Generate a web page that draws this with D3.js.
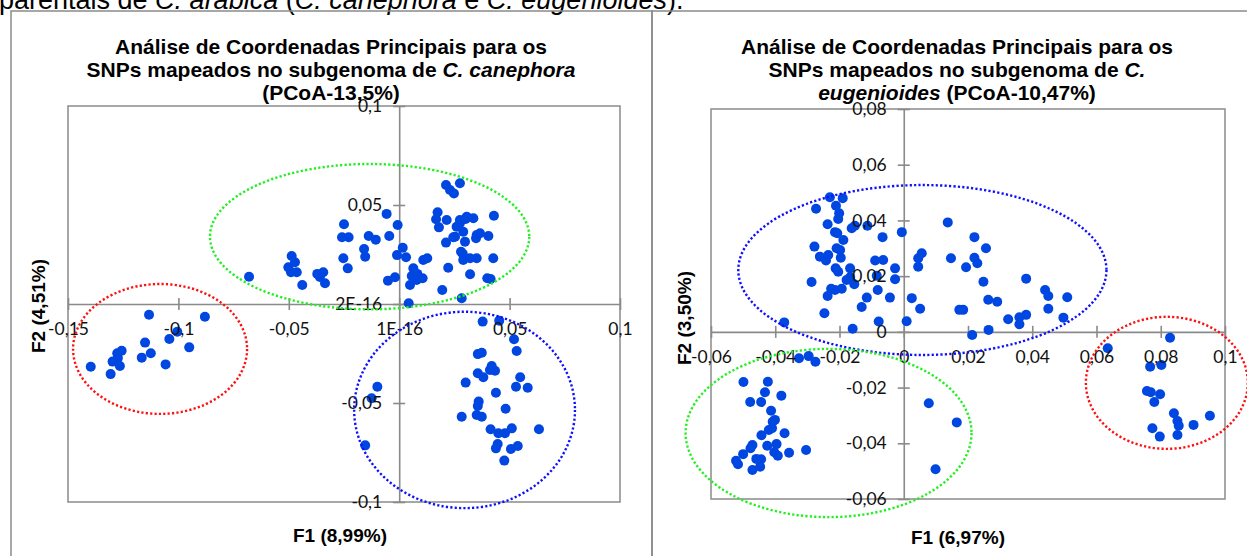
<!DOCTYPE html>
<html>
<head>
<meta charset="utf-8">
<script src="https://cdn.jsdelivr.net/npm/d3@7"></script>
<style>
  body { margin: 0; background: #fff; }
  svg { display: block; }
  .tick-label { font-family: Lato, "Open Sans", sans-serif; font-size: 17.5px; fill: #111; }
  .title { font-family: "Liberation Sans", Arial, sans-serif; font-weight: bold; font-size: 21px; fill: #000; }
  .axis-title { font-family: "Liberation Sans", Arial, sans-serif; font-weight: bold; font-size: 19px; fill: #000; }
</style>
</head>
<body>
<svg id="chart" width="1247" height="556"></svg>
<script>
// ---------- data: C. canephora subgenome (F1, F2) ----------
const canephoraGreen = [
  [-0.0680, 0.0138], [-0.0487, 0.0242], [-0.0472, 0.0211], [-0.0502, 0.0185], [-0.0490, 0.0160],
  [-0.0464, 0.0160], [-0.0439, 0.0096], [-0.0371, 0.0152], [-0.0344, 0.0160], [-0.0359, 0.0136],
  [-0.0336, 0.0105], [-0.0250, 0.0403], [-0.0259, 0.0337], [-0.0229, 0.0337], [-0.0253, 0.0231],
  [-0.0233, 0.0180], [-0.0159, 0.0278], [-0.0154, 0.0239], [-0.0138, 0.0343], [-0.0106, 0.0325],
  [-0.0057, 0.0455], [-0.0045, 0.0343], [-0.0007, 0.0399], [0.0016, 0.0284], [-0.0010, 0.0247],
  [0.0031, 0.0236], [-0.0051, 0.0118], [-0.0019, 0.0135], [0.0049, 0.0096], [0.0043, 0.0004],
  [0.0064, 0.0180], [0.0057, 0.0141], [0.0082, 0.0152], [0.0106, 0.0130], [0.0079, 0.0121],
  [0.0109, 0.0222], [0.0127, 0.0231], [0.0195, 0.0071], [0.0222, 0.0183], [0.0283, 0.0029],
  [0.0321, 0.0150], [0.0399, 0.0130], [0.0414, 0.0126], [0.0426, 0.0231], [0.0212, 0.0601],
  [0.0275, 0.0610], [0.0230, 0.0576], [0.0248, 0.0558], [0.0174, 0.0463], [0.0167, 0.0428],
  [0.0180, 0.0387], [0.0215, 0.0424], [0.0212, 0.0310], [0.0253, 0.0340], [0.0260, 0.0390],
  [0.0275, 0.0424], [0.0306, 0.0441], [0.0336, 0.0433], [0.0290, 0.0365], [0.0298, 0.0315],
  [0.0280, 0.0264], [0.0290, 0.0222], [0.0321, 0.0231], [0.0351, 0.0231], [0.0351, 0.0348],
  [0.0366, 0.0357], [0.0348, 0.0332], [0.0404, 0.0343], [0.0429, 0.0446], [0.0275, 0.0408],
  [0.0245, 0.0337], [0.0301, 0.0429], [0.0288, 0.0253]
];
const canephoraRed = [
  [-0.1397, -0.0317], [-0.1307, -0.0354], [-0.1298, -0.0291], [-0.1265, -0.0313], [-0.1274, -0.0273],
  [-0.1277, -0.0249], [-0.1257, -0.0236], [-0.1166, -0.0271], [-0.1151, -0.0195], [-0.1125, -0.0249],
  [-0.1133, -0.0054], [-0.1058, -0.0305], [-0.1041, -0.0177], [-0.1005, -0.0140], [-0.0951, -0.0219],
  [-0.0880, -0.0064]
];
const canephoraBlue = [
  [0.0378, -0.0089], [0.0453, -0.0084], [0.0520, -0.0178], [0.0532, -0.0237], [0.0356, -0.0253],
  [0.0374, -0.0246], [0.0419, -0.0313], [0.0434, -0.0337], [0.0411, -0.0333], [0.0356, -0.0350],
  [0.0381, -0.0370], [0.0301, -0.0397], [0.0548, -0.0370], [0.0529, -0.0418], [0.0582, -0.0423],
  [0.0438, -0.0448], [0.0360, -0.0493], [0.0356, -0.0515], [0.0482, -0.0529], [0.0283, -0.0569],
  [0.0351, -0.0561], [0.0374, -0.0569], [0.0414, -0.0633], [0.0449, -0.0653], [0.0479, -0.0653],
  [0.0510, -0.0628], [0.0633, -0.0633], [0.0446, -0.0707], [0.0438, -0.0729], [0.0506, -0.0732],
  [0.0537, -0.0717], [0.0476, -0.0791], [-0.0099, -0.0418], [-0.0125, -0.0476], [-0.0154, -0.0714]
];
// group outlines: [centre F1, centre F2, radius F1, radius F2]
const canephoraOutlines = [
  [-0.0134, 0.0340, 0.0723, 0.0367],
  [-0.1083, -0.0227, 0.0394, 0.0328],
  [0.0296, -0.0535, 0.0500, 0.0496]
];
const canephoraXTicks = [-0.15, -0.1, -0.05, 0, 0.05, 0.1];
const canephoraXLabels = ["-0,15", "-0,1", "-0,05", "1E-16", "0,05", "0,1"];
const canephoraYTicks = [0.1, 0.05, 0, -0.05, -0.1];
const canephoraYLabels = ["0,1", "0,05", "2E-16", "-0,05", "-0,1"];

// ---------- data: C. eugenioides subgenome (F1, F2) ----------
const eugenioidesBlue = [
  [-0.0230, 0.0483], [-0.0190, 0.0480], [-0.0211, 0.0453], [-0.0273, 0.0442], [-0.0201, 0.0426],
  [-0.0204, 0.0405], [-0.0237, 0.0386], [-0.0162, 0.0372], [-0.0152, 0.0381], [-0.0113, 0.0381],
  [-0.0006, 0.0358], [0.0137, 0.0393], [-0.0214, 0.0358], [-0.0207, 0.0354], [-0.0188, 0.0330],
  [-0.0066, 0.0340], [0.0220, 0.0340], [0.0256, 0.0300], [-0.0278, 0.0306], [-0.0209, 0.0300],
  [-0.0198, 0.0294], [-0.0261, 0.0270], [-0.0235, 0.0276], [-0.0242, 0.0256], [-0.0196, 0.0266],
  [0.0056, 0.0282], [0.0045, 0.0264], [0.0147, 0.0264], [0.0220, 0.0266], [0.0229, 0.0246],
  [-0.0089, 0.0256], [-0.0064, 0.0258], [-0.0027, 0.0228], [0.0045, 0.0234], [0.0194, 0.0232],
  [-0.0212, 0.0228], [-0.0204, 0.0216], [-0.0167, 0.0228], [-0.0084, 0.0201], [-0.0027, 0.0189],
  [0.0381, 0.0191], [-0.0287, 0.0179], [-0.0178, 0.0186], [-0.0167, 0.0196], [-0.0154, 0.0171],
  [0.0248, 0.0180], [-0.0226, 0.0155], [-0.0214, 0.0150], [-0.0193, 0.0155], [-0.0081, 0.0150],
  [-0.0237, 0.0129], [-0.0115, 0.0123], [-0.0043, 0.0123], [0.0025, 0.0121], [0.0440, 0.0150],
  [0.0450, 0.0129], [0.0509, 0.0124], [0.0263, 0.0115], [0.0291, 0.0108], [-0.0131, 0.0089],
  [0.0051, 0.0083], [0.0173, 0.0079], [0.0185, 0.0079], [0.0450, 0.0083], [-0.0247, 0.0067],
  [-0.0372, 0.0034], [-0.0078, 0.0037], [0.0009, 0.0038], [0.0325, 0.0045], [0.0360, 0.0052],
  [0.0381, 0.0061], [0.0360, 0.0027], [0.0497, 0.0051], [-0.0159, 0.0011], [0.0264, 0.0007],
  [0.0213, -0.0011]
];
const eugenioidesRed = [
  [0.0635, -0.0059], [0.0829, -0.0021], [0.0767, -0.0125], [0.0802, -0.0119], [0.0757, -0.0212],
  [0.0769, -0.0217], [0.0798, -0.0224], [0.0780, -0.0252], [0.0841, -0.0292], [0.0852, -0.0320],
  [0.0856, -0.0337], [0.0953, -0.0301], [0.0902, -0.0334], [0.0774, -0.0346], [0.0797, -0.0376],
  [0.0852, -0.0370]
];
const eugenioidesGreen = [
  [-0.0326, -0.0095], [-0.0296, -0.0087], [-0.0275, -0.0107], [-0.0499, -0.0180], [-0.0423, -0.0179],
  [-0.0432, -0.0217], [-0.0478, -0.0252], [-0.0444, -0.0252], [-0.0381, -0.0229], [-0.0413, -0.0283],
  [-0.0401, -0.0316], [-0.0408, -0.0323], [-0.0410, -0.0346], [-0.0420, -0.0352], [-0.0371, -0.0364],
  [-0.0443, -0.0371], [-0.0396, -0.0403], [-0.0425, -0.0409], [-0.0471, -0.0406], [-0.0477, -0.0418],
  [-0.0403, -0.0432], [-0.0392, -0.0445], [-0.0357, -0.0434], [-0.0304, -0.0424], [-0.0500, -0.0439],
  [-0.0459, -0.0456], [-0.0444, -0.0457], [-0.0522, -0.0463], [-0.0516, -0.0475], [-0.0447, -0.0484],
  [-0.0471, -0.0496], [0.0078, -0.0256], [0.0165, -0.0325], [0.0099, -0.0493]
];
const eugenioidesOutlines = [
  [0.0058, 0.0222, 0.0573, 0.0305],
  [-0.0234, -0.0363, 0.0445, 0.0302],
  [0.0819, -0.0183, 0.0252, 0.0237]
];
const eugenioidesXTicks = [-0.06, -0.04, -0.02, 0, 0.02, 0.04, 0.06, 0.08, 0.1];
const eugenioidesXLabels = ["-0,06", "-0,04", "-0,02", "0", "0,02", "0,04", "0,06", "0,08", "0,1"];
const eugenioidesYTicks = [0.08, 0.06, 0.04, 0.02, 0, -0.02, -0.04, -0.06];
const eugenioidesYLabels = ["0,08", "0,06", "0,04", "0,02", "0", "-0,02", "-0,04", "-0,06"];

// title lines: [text, italic?] segments
const canephoraTitle = [
  [["Análise de Coordenadas Principais para os", false]],
  [["SNPs mapeados no subgenoma de ", false], ["C. canephora", true]],
  [["(PCoA-13,5%)", false]]
];
const eugenioidesTitle = [
  [["Análise de Coordenadas Principais para os", false]],
  [["SNPs mapeados no subgenoma de ", false], ["C.", true]],
  [["eugenioides", true], [" (PCoA-10,47%)", false]]
];
const captionLine = [
  ["parentais de ", false], ["C. arabica", true], [" (", false], ["C. canephora", true],
  [" e ", false], ["C. eugenioides", true], [").", false]
];

const svg = d3.select("#chart");
const gridColor = "#8a8a8a";
const dotColor = "#0047e1";
const outlineColors = ["#1ff01f", "#ff1010", "#1010ff"];
const outlineColorsRight = ["#1010ff", "#1ff01f", "#ff1010"];

// caption from the page above, cut by the top edge
const cap = svg.append("text")
    .attr("x", -1).attr("y", 9)
    .style("font-family", "'Liberation Sans', Arial, sans-serif")
    .style("font-size", "27px");
captionLine.forEach(s => cap.append("tspan").style("font-style", s[1] ? "italic" : "normal").text(s[0]));

// chart frames
svg.append("rect").attr("x", 11).attr("y", 11).attr("width", 641).attr("height", 580)
    .attr("fill", "none").attr("stroke", gridColor).attr("stroke-width", 1.5);
svg.append("rect").attr("x", 652).attr("y", 11).attr("width", 620).attr("height", 580)
    .attr("fill", "none").attr("stroke", gridColor).attr("stroke-width", 1.5);

function drawPanel(p) {
  const x = d3.scaleLinear().domain(p.xDomain).range([p.left, p.right]);
  const y = d3.scaleLinear().domain(p.yDomain).range([p.bottom, p.top]);
  const g = svg.append("g");

  g.append("rect")
      .attr("x", p.left).attr("y", p.top)
      .attr("width", p.right - p.left).attr("height", p.bottom - p.top)
      .attr("fill", "none").attr("stroke", gridColor).attr("stroke-width", 1.5);

  // axis lines and cross ticks
  const gx = g.append("g").attr("transform", `translate(0,${y(0)})`)
      .call(d3.axisBottom(x).tickValues(p.xTicks).tickFormat("").tickSize(6).tickSizeOuter(0));
  gx.selectAll(".tick line").attr("y1", -6);
  const gy = g.append("g").attr("transform", `translate(${x(0)},0)`)
      .call(d3.axisLeft(y).tickValues(p.yTicks).tickFormat("").tickSize(6).tickSizeOuter(0));
  gy.selectAll(".tick line").attr("x1", 6);
  g.selectAll(".domain, .tick line").attr("stroke", gridColor).attr("stroke-width", 1.6);

  // points
  g.append("g").selectAll("circle")
    .data(p.points)
    .join("circle")
      .attr("cx", d => x(d[0]))
      .attr("cy", d => y(d[1]))
      .attr("r", 5)
      .attr("fill", dotColor);

  // tick labels on top of the points
  const lx = g.append("g").attr("transform", `translate(0,${y(0)})`)
      .call(d3.axisBottom(x).tickValues(p.xTicks).tickFormat((d, i) => p.xLabels[i]).tickSize(0).tickPadding(19));
  const ly = g.append("g").attr("transform", `translate(${x(0)},0)`)
      .call(d3.axisLeft(y).tickValues(p.yTicks).tickFormat((d, i) => p.yLabels[i]).tickSize(0).tickPadding(17));
  [lx, ly].forEach(a => {
    a.select(".domain").remove();
    a.selectAll("text").attr("class", "tick-label").attr("fill", null);
    a.attr("font-family", null).attr("font-size", null);
  });

  // dotted group outlines
  g.append("g").selectAll("ellipse")
    .data(p.outlines)
    .join("ellipse")
      .attr("cx", d => x(d[0]))
      .attr("cy", d => y(d[1]))
      .attr("rx", d => x(d[0] + d[2]) - x(d[0]))
      .attr("ry", d => y(d[1]) - y(d[1] + d[3]))
      .attr("fill", "none")
      .attr("stroke", (d, i) => p.outlineColors[i])
      .attr("stroke-width", 2.4)
      .attr("stroke-dasharray", "2.2 2.2");

  // chart title
  p.title.forEach((line, i) => {
    const t = g.append("text").attr("class", "title")
        .attr("x", p.titleX).attr("y", p.titleY + i * 23)
        .attr("text-anchor", "middle");
    line.forEach(s => t.append("tspan").style("font-style", s[1] ? "italic" : "normal").text(s[0]));
  });

  // axis titles
  g.append("text").attr("class", "axis-title")
      .attr("x", p.xTitleX).attr("y", p.xTitleY)
      .attr("text-anchor", "middle")
      .text(p.xTitle);
  g.append("text").attr("class", "axis-title")
      .attr("transform", `translate(${p.yTitleX},${p.yTitleY}) rotate(-90)`)
      .attr("text-anchor", "middle")
      .text(p.yTitle);
}

drawPanel({
  left: 68, right: 620, top: 106, bottom: 502,
  xDomain: [-0.15, 0.1], yDomain: [-0.1, 0.1],
  xTicks: canephoraXTicks, xLabels: canephoraXLabels,
  yTicks: canephoraYTicks, yLabels: canephoraYLabels,
  points: canephoraGreen.concat(canephoraRed, canephoraBlue),
  outlines: canephoraOutlines, outlineColors: outlineColors,
  title: canephoraTitle, titleX: 331, titleY: 54,
  xTitle: "F1 (8,99%)", xTitleX: 340, xTitleY: 542,
  yTitle: "F2 (4,51%)", yTitleX: 45, yTitleY: 306
});

drawPanel({
  left: 711, right: 1225, top: 109, bottom: 499,
  xDomain: [-0.06, 0.1], yDomain: [-0.06, 0.08],
  xTicks: eugenioidesXTicks, xLabels: eugenioidesXLabels,
  yTicks: eugenioidesYTicks, yLabels: eugenioidesYLabels,
  points: eugenioidesBlue.concat(eugenioidesRed, eugenioidesGreen),
  outlines: eugenioidesOutlines, outlineColors: outlineColorsRight,
  title: eugenioidesTitle, titleX: 957, titleY: 54,
  xTitle: "F1 (6,97%)", xTitleX: 958, xTitleY: 544,
  yTitle: "F2 (3,50%)", yTitleX: 691, yTitleY: 318
});
</script>
</body>
</html>
